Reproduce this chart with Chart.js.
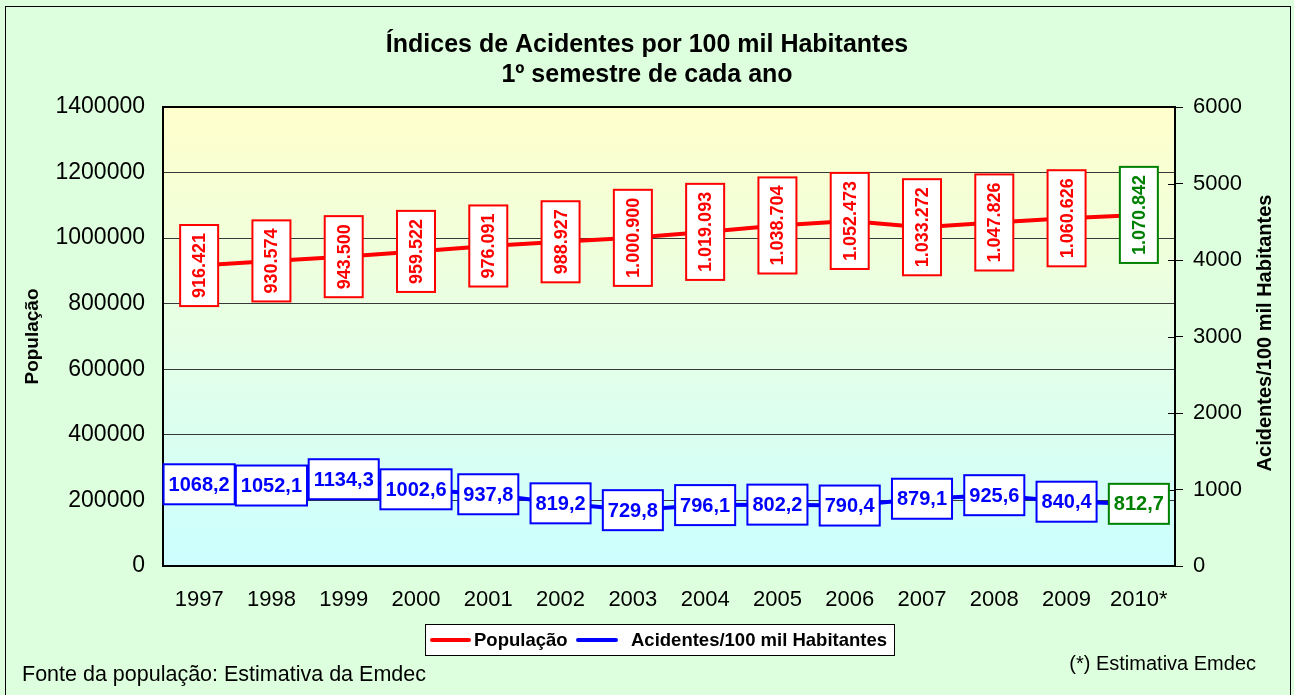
<!DOCTYPE html>
<html>
<head>
<meta charset="utf-8">
<script src="https://cdn.jsdelivr.net/npm/chart.js@4.4.1/dist/chart.umd.min.js"></script>
<style>
  html, body { margin: 0; padding: 0; background: #ddffdd; }
  #wrap { width: 1294px; height: 695px; }
</style>
</head>
<body>
<div id="wrap"><canvas id="c" width="1294" height="695"></canvas></div>
<script>
// chart data
const years = ['1997', '1998', '1999', '2000', '2001', '2002', '2003',
               '2004', '2005', '2006', '2007', '2008', '2009', '2010*'];
const populacao = [916421, 930574, 943500, 959522, 976091, 988927, 1000900,
                   1019093, 1038704, 1052473, 1033272, 1047826, 1060626, 1070842];
const acidentes = [1068.2, 1052.1, 1134.3, 1002.6, 937.8, 819.2, 729.8,
                   796.1, 802.2, 790.4, 879.1, 925.6, 840.4, 812.7];
const titleLines = ['Índices de Acidentes por 100 mil Habitantes', '1º semestre de cada ano'];
const leftTitle = 'População';
const rightTitle = 'Acidentes/100 mil Habitantes';
const noteLeft = 'Fonte da população: Estimativa da Emdec';
const noteRight = '(*) Estimativa Emdec';

const RED = '#ff0000', BLUE = '#0000ff', GREEN = '#008000';
const FONT = 'Arial, "Liberation Sans", sans-serif';

// 916421 -> "916.421"
function fmtPop(v) { return String(v).replace(/\B(?=(\d{3})+(?!\d))/g, '.'); }
// 1068.2 -> "1068,2"
function fmtAcc(v) { return v.toFixed(1).replace('.', ','); }

const decor = {
    id: 'decor',
    beforeDraw(chart) {
        const ctx = chart.ctx;
        const a = chart.chartArea;
        ctx.save();
        ctx.fillStyle = '#ddffdd';
        ctx.fillRect(0, 0, chart.width, chart.height);
        ctx.strokeStyle = '#000';
        ctx.lineWidth = 1;
        ctx.strokeRect(5.5, 6.5, 1285, 720);
        // plot area: yellow at top fading to cyan at bottom
        const g = ctx.createLinearGradient(0, a.top, 0, a.bottom);
        g.addColorStop(0, '#ffffcc');
        g.addColorStop(1, '#ccffff');
        ctx.fillStyle = g;
        ctx.fillRect(a.left, a.top, a.right - a.left, a.bottom - a.top);
        ctx.restore();
    },
    afterDatasetsDraw(chart) {
        const ctx = chart.ctx;
        const a = chart.chartArea;
        ctx.save();
        ctx.strokeStyle = '#000';
        ctx.lineWidth = 2;
        ctx.strokeRect(a.left, a.top, a.right - a.left, a.bottom - a.top);

        // inner half of the right axis tick marks
        const y1 = chart.scales.y1;
        ctx.lineWidth = 1;
        y1.ticks.forEach(t => {
            const py = Math.round(y1.getPixelForValue(t.value)) + 0.5;
            ctx.beginPath(); ctx.moveTo(a.right - 7, py); ctx.lineTo(a.right, py); ctx.stroke();
        });

        // population labels: rotated text in a white box
        const mPop = chart.getDatasetMeta(0);
        ctx.font = 'bold 18px ' + FONT;
        ctx.textAlign = 'center';
        ctx.textBaseline = 'middle';
        mPop.data.forEach((pt, i) => {
            const col = i === populacao.length - 1 ? GREEN : RED;
            const txt = fmtPop(populacao[i]);
            const w = 38, h = ctx.measureText(txt).width + 16;
            ctx.fillStyle = '#fff';
            ctx.fillRect(pt.x - w / 2, pt.y - h / 2, w, h);
            ctx.strokeStyle = col;
            ctx.lineWidth = 2;
            ctx.strokeRect(pt.x - w / 2, pt.y - h / 2, w, h);
            ctx.save();
            ctx.translate(pt.x, pt.y);
            ctx.rotate(-Math.PI / 2);
            ctx.fillStyle = col;
            ctx.fillText(txt, 0, 1);
            ctx.restore();
        });

        // accident labels: horizontal text in a white box
        const mAcc = chart.getDatasetMeta(1);
        ctx.font = 'bold 20px ' + FONT;
        mAcc.data.forEach((pt, i) => {
            const col = i === acidentes.length - 1 ? GREEN : BLUE;
            const txt = fmtAcc(acidentes[i]);
            const w = ctx.measureText(txt).width + 10, h = 40;
            ctx.fillStyle = '#fff';
            ctx.fillRect(pt.x - w / 2, pt.y - h / 2, w, h);
            ctx.strokeStyle = col;
            ctx.lineWidth = 2;
            ctx.strokeRect(pt.x - w / 2, pt.y - h / 2, w, h);
            ctx.fillStyle = col;
            ctx.fillText(txt, pt.x, pt.y + 1);
        });
        ctx.restore();
    },
    afterDraw(chart) {
        const ctx = chart.ctx;
        ctx.save();

        // right axis title reads bottom-to-top
        ctx.translate(1265, 333);
        ctx.rotate(-Math.PI / 2);
        ctx.font = 'bold 20px ' + FONT;
        ctx.fillStyle = '#000';
        ctx.textAlign = 'center';
        ctx.textBaseline = 'middle';
        ctx.fillText(rightTitle, 0, 0);
        ctx.setTransform(1, 0, 0, 1, 0, 0);

        // legend
        ctx.fillStyle = '#fff';
        ctx.fillRect(425, 624, 469, 31);
        ctx.strokeStyle = '#000';
        ctx.lineWidth = 1;
        ctx.strokeRect(425.5, 624.5, 469, 31);
        ctx.lineCap = 'round';
        ctx.lineWidth = 4;
        ctx.strokeStyle = RED;
        ctx.beginPath(); ctx.moveTo(432, 640); ctx.lineTo(469, 640); ctx.stroke();
        ctx.strokeStyle = BLUE;
        ctx.beginPath(); ctx.moveTo(578, 640); ctx.lineTo(616, 640); ctx.stroke();
        ctx.font = 'bold 18.5px ' + FONT;
        ctx.fillStyle = '#000';
        ctx.textAlign = 'left';
        ctx.fillText(chart.data.datasets[0].label, 474, 641);
        ctx.fillText(chart.data.datasets[1].label, 631, 641);

        // footnotes
        ctx.font = '21.5px ' + FONT;
        ctx.fillText(noteLeft, 22, 675);
        ctx.font = '20px ' + FONT;
        ctx.textAlign = 'right';
        ctx.fillText(noteRight, 1256, 664);
        ctx.restore();
    }
};

const plainTick = v => String(v);

new Chart(document.getElementById('c'), {
    type: 'line',
    data: {
        labels: years,
        datasets: [
            {
                label: 'População',
                data: populacao,
                yAxisID: 'y',
                borderColor: RED,
                backgroundColor: RED,
                borderWidth: 4,
                pointRadius: 0,
                tension: 0
            },
            {
                label: 'Acidentes/100 mil Habitantes',
                data: acidentes,
                yAxisID: 'y1',
                borderColor: BLUE,
                backgroundColor: BLUE,
                borderWidth: 4,
                pointRadius: 0,
                tension: 0
            }
        ]
    },
    options: {
        responsive: false,
        animation: false,
        devicePixelRatio: 1,
        layout: { padding: { left: 8, right: 8, top: 0, bottom: 69 } },
        plugins: {
            legend: { display: false },
            tooltip: { enabled: false },
            title: {
                display: true,
                text: titleLines,
                color: '#000',
                font: { family: FONT, size: 25, weight: 'bold', lineHeight: 1.2 },
                padding: { top: 30, bottom: 17 }
            }
        },
        scales: {
            x: {
                offset: true,
                grid: { display: false },
                border: { display: false },
                ticks: { color: '#000', font: { family: FONT, size: 22 }, padding: 13, maxRotation: 0 },
                afterFit(s) { s.height = 60; }
            },
            y: {
                position: 'left',
                min: 0,
                max: 1400000,
                ticks: { stepSize: 200000, color: '#000', font: { family: FONT, size: 23 }, padding: 18, callback: plainTick },
                grid: { color: '#383838', lineWidth: 1, drawTicks: false },
                border: { display: false },
                title: {
                    display: true,
                    text: leftTitle,
                    color: '#000',
                    font: { family: FONT, size: 19, weight: 'bold' },
                    padding: { top: 13, bottom: 0 }
                },
                afterFit(s) { s.width = 155; }
            },
            y1: {
                position: 'right',
                min: 0,
                max: 6000,
                ticks: { stepSize: 1000, color: '#000', font: { family: FONT, size: 22 }, padding: 10, callback: plainTick },
                grid: { drawOnChartArea: false, drawTicks: true, tickLength: 8, color: '#000' },
                border: { display: false },
                afterFit(s) { s.width = 111; }
            }
        }
    },
    plugins: [decor]
});
</script>
</body>
</html>
